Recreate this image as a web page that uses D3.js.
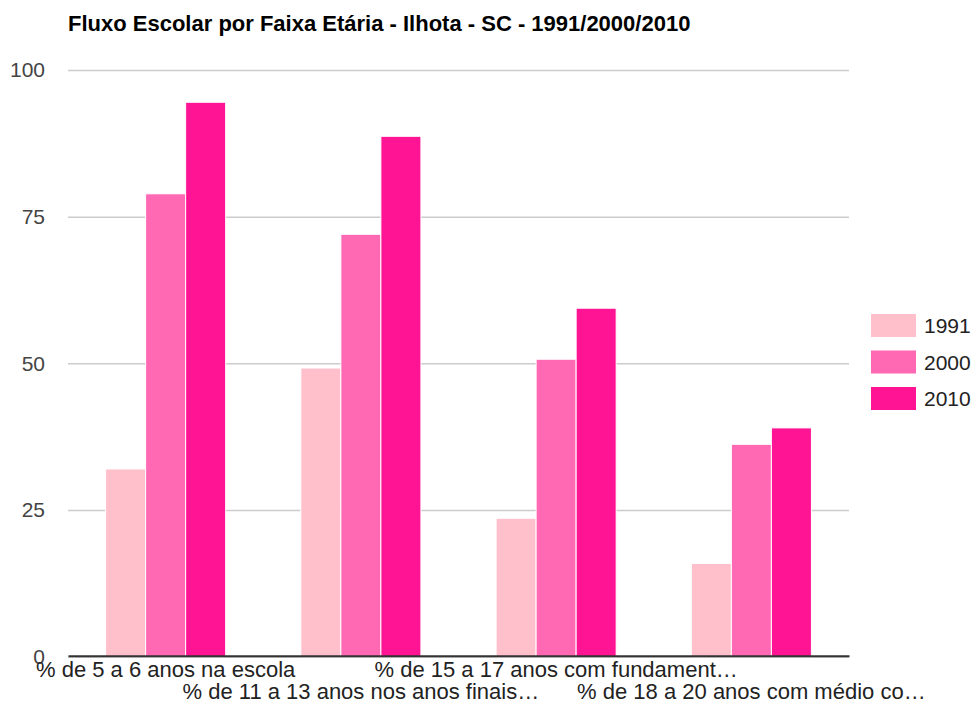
<!DOCTYPE html>
<html>
<head>
<meta charset="utf-8">
<script src="https://cdn.jsdelivr.net/npm/d3@7"></script>
<style>
  html, body { margin: 0; padding: 0; background: #fff; }
  svg { display: block; font-family: "Liberation Sans", Arial, sans-serif; }
</style>
</head>
<body>
<svg id="chart" width="973" height="704"></svg>
<script>
const title = "Fluxo Escolar por Faixa Etária - Ilhota - SC - 1991/2000/2010";
const categories = [
  "% de 5 a 6 anos na escola",
  "% de 11 a 13 anos nos anos finais…",
  "% de 15 a 17 anos com fundament…",
  "% de 18 a 20 anos com médio co…"
];
const seriesNames = ["1991", "2000", "2010"];
const values1991 = [32.0, 49.2, 23.6, 15.9];
const values2000 = [78.9, 72.0, 50.7, 36.2];
const values2010 = [94.5, 88.7, 59.4, 39.0];
const colors = ["#FFC0CB", "#FF69B4", "#FF1493"];
const yTicks = [0, 25, 50, 75, 100];

const seriesValues = [values1991, values2000, values2010];
const svg = d3.select("#chart");
const mLeft = 68, mRight = 849, mTop = 70, mBottom = 656.7;

const x0 = d3.scaleBand().domain(categories).range([mLeft, mRight])
  .paddingInner(0.385).paddingOuter(0.1925);
const x1 = d3.scaleBand().domain(seriesNames).range([0, x0.bandwidth()]);
const y = d3.scaleLinear().domain([0, 100]).range([mBottom, mTop]);

// title
svg.append("text").attr("x", mLeft).attr("y", 31)
  .attr("font-size", 22).attr("font-weight", "bold").attr("fill", "#000")
  .text(title);

// gridlines
const yAxis = d3.axisLeft(y).tickValues(yTicks).tickSize(-(mRight - mLeft)).tickPadding(23);
const gy = svg.append("g").attr("transform", `translate(${mLeft},0)`).call(yAxis);
gy.select(".domain").remove();
gy.selectAll(".tick line").attr("stroke", "#cccccc").attr("stroke-width", 1.5);
gy.selectAll(".tick text").attr("font-size", 21).attr("fill", "#444")
  .attr("font-family", "Liberation Sans, Arial, sans-serif");

// bars
const rows = categories.map((c, i) => ({ cat: c, vals: seriesNames.map((s, j) => ({ s, v: seriesValues[j][i], c: colors[j] })) }));
const g = svg.append("g");
g.selectAll("g.grp").data(rows).join("g").attr("class", "grp")
  .attr("transform", d => `translate(${x0(d.cat)},0)`)
  .selectAll("rect").data(d => d.vals).join("rect")
  .attr("x", d => x1(d.s))
  .attr("width", x1.bandwidth())
  .attr("y", d => y(d.v))
  .attr("height", d => y(0) - y(d.v))
  .attr("fill", d => d.c)
  .attr("stroke", "#fff").attr("stroke-width", 1);

// baseline axis
const xAxis = d3.axisBottom(x0).tickSize(0).tickPadding(0);
const gx = svg.append("g").attr("transform", `translate(0,${y(0) - 1})`).call(xAxis);
gx.select(".domain").attr("stroke", "#333").attr("stroke-width", 2);
gx.selectAll(".tick text")
  .attr("font-size", 22).attr("fill", "#222")
  .attr("font-family", "Liberation Sans, Arial, sans-serif")
  .attr("dy", null)
  .attr("y", (d, i) => i % 2 === 0 ? 21.5 : 43);

// legend
const lg = svg.append("g").attr("transform", "translate(871,314)");
seriesNames.forEach((s, i) => {
  const row = lg.append("g").attr("transform", `translate(0,${i * 36.5})`);
  row.append("rect").attr("width", 45).attr("height", 23).attr("fill", colors[i]);
  row.append("text").attr("x", 53).attr("y", 19).attr("font-size", 21).attr("fill", "#222").text(s);
});
</script>
</body>
</html>
